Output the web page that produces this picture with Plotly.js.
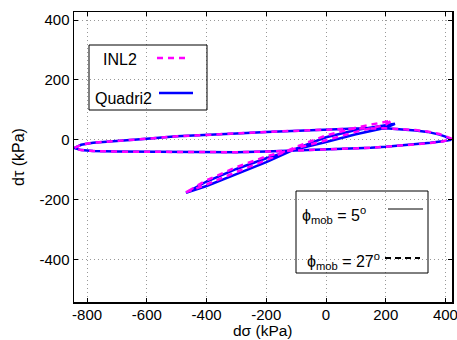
<!DOCTYPE html>
<html>
<head>
<meta charset="utf-8">
<script src="https://cdn.plot.ly/plotly-3.0.1.min.js"></script>
<style>html,body{margin:0;padding:0;background:#fff}#chart{width:457px;height:340px}</style>
</head>
<body>
<div id="chart"></div>
<script>
// Quadri2 (blue solid) — big flat loop
const quadriLoopX = [420, 400, 380, 340, 300, 250, 200, 100, 0, -100, -200, -300, -400, -500, -600, -700, -780, -820, -844,
                     -820, -780, -700, -600, -500, -400, -300, -200, -100, 0, 100, 150, 200, 250, 300, 350, 390, 420];
const quadriLoopY = [0, 10, 17, 26, 31, 35, 38, 37, 34, 30, 26, 21, 16, 11, 3, -4, -10, -17, -28,
                     -35, -38, -40, -41, -42, -42, -42, -40, -37, -33, -29, -27, -24, -20, -15, -10, -5, 0];
// Quadri2 — tilted narrow loop
const quadriLensX = [-469, -400, -300, -200, -100, 0, 100, 180, 231, 200, 100, 0, -100, -200, -300, -400, -469];
const quadriLensY = [-178, -155, -115, -75, -30, 8, 32, 46, 53, 40, 18, -8, -32, -62, -98, -140, -178];

// INL2 (magenta dashed) — big flat loop
const inlLoopX = [422, 400, 380, 340, 300, 250, 200, 100, 0, -100, -200, -300, -400, -500, -600, -700, -780, -820, -844,
                  -820, -780, -700, -600, -500, -400, -300, -200, -100, 0, 100, 150, 200, 250, 300, 350, 390, 422];
const inlLoopY = [3, 12, 19, 27, 32, 35, 38, 37, 34, 30, 26, 21, 16, 11, 3, -4, -10, -17, -28,
                  -35, -38, -40, -41, -42, -42, -42, -40, -37, -33, -29, -27, -24, -20, -16, -11, -6, 3];
// INL2 — tilted narrow loop
const inlLensX = [-469, -400, -300, -200, -100, 0, 100, 170, 220, 200, 100, 0, -100, -200, -300, -400, -469];
const inlLensY = [-176, -150, -108, -68, -24, 14, 40, 54, 64, 50, 26, -2, -28, -56, -92, -136, -176];

const xTicks = [-800, -600, -400, -200, 0, 200, 400];
const yTicks = [-400, -200, 0, 200, 400];
const seriesNames = ['Quadri2', 'INL2'];
const phiLabels = ['\u03d5<sub>mob</sub> = 5<sup>o</sup>', '\u03d5<sub>mob</sub> = 27<sup>o</sup>'];
const xTitle = 'd\u03c3 (kPa)';
const yTitle = 'd\u03c4 (kPa)';

const FONT = 'Liberation Sans, Arial, Helvetica, sans-serif';

const traces = [
  {x: quadriLoopX.concat([null], quadriLensX), y: quadriLoopY.concat([null], quadriLensY),
   mode: 'lines', name: seriesNames[0], line: {color: '#0000ff', width: 2.5}, showlegend: false},
  {x: inlLoopX.concat([null], inlLensX), y: inlLoopY.concat([null], inlLensY),
   mode: 'lines', name: seriesNames[1], line: {color: '#ff00ff', width: 2.5, dash: '6px,5px'}, showlegend: false}
];

function px2x(p){ return (p - 74) / 378; }
function px2y(p){ return (302 - p) / 290; }

const shapes = [
  {type: 'rect', xref: 'paper', yref: 'paper', x0: px2x(89), x1: px2x(207), y0: px2y(110), y1: px2y(45),
   line: {color: '#000', width: 1}, fillcolor: 'rgba(0,0,0,0)', layer: 'above'},
  {type: 'line', xref: 'paper', yref: 'paper', x0: px2x(157), x1: px2x(190), y0: px2y(58), y1: px2y(58),
   line: {color: '#ff00ff', width: 2.5, dash: '6px,5px'}},
  {type: 'line', xref: 'paper', yref: 'paper', x0: px2x(159), x1: px2x(193), y0: px2y(93), y1: px2y(93),
   line: {color: '#0000ff', width: 2.5}},
  {type: 'rect', xref: 'paper', yref: 'paper', x0: px2x(296), x1: px2x(428), y0: px2y(273), y1: px2y(191),
   line: {color: '#000', width: 1}, fillcolor: 'rgba(0,0,0,0)', layer: 'above'},
  {type: 'line', xref: 'paper', yref: 'paper', x0: px2x(388), x1: px2x(423), y0: px2y(209), y1: px2y(209),
   line: {color: '#000', width: 1}},
  {type: 'line', xref: 'paper', yref: 'paper', x0: px2x(385), x1: px2x(420), y0: px2y(258), y1: px2y(258),
   line: {color: '#000', width: 2, dash: '6px,4px'}}
];

const annotations = [
  {xref: 'paper', yref: 'paper', x: px2x(139), y: px2y(59), xanchor: 'right', yanchor: 'middle',
   text: seriesNames[1], showarrow: false, font: {family: FONT, size: 16, color: '#000'}},
  {xref: 'paper', yref: 'paper', x: px2x(154), y: px2y(98), xanchor: 'right', yanchor: 'middle',
   text: seriesNames[0], showarrow: false, font: {family: FONT, size: 16, color: '#000'}},
  {xref: 'paper', yref: 'paper', x: px2x(300), y: px2y(215), xanchor: 'left', yanchor: 'middle',
   text: phiLabels[0], showarrow: false, font: {family: FONT, size: 16, color: '#000'}},
  {xref: 'paper', yref: 'paper', x: px2x(305), y: px2y(261), xanchor: 'left', yanchor: 'middle',
   text: phiLabels[1], showarrow: false, font: {family: FONT, size: 16, color: '#000'}},
  {xref: 'paper', yref: 'paper', x: px2x(263), y: px2y(340), xanchor: 'center', yanchor: 'bottom',
   text: xTitle, showarrow: false, borderpad: 0, font: {family: FONT, size: 15.5, color: '#000'}},
  {xref: 'paper', yref: 'paper', x: px2x(18), y: px2y(157), xanchor: 'center', yanchor: 'middle',
   text: yTitle, textangle: -90, showarrow: false, font: {family: FONT, size: 16, color: '#000'}}
];

const axisCommon = {
  showline: true, linecolor: '#000', linewidth: 1.5, mirror: 'ticks',
  ticks: 'inside', ticklen: 4, tickwidth: 1, tickcolor: '#000',
  showgrid: true, gridcolor: '#999', gridwidth: 1, griddash: '1px,3px',
  zeroline: false, tickfont: {family: FONT, size: 15, color: '#000'},
  tickmode: 'array', automargin: false, ticklabeloverflow: 'allow'
};

const layout = {
  width: 457, height: 340,
  margin: {l: 74, r: 5, t: 12, b: 38},
  paper_bgcolor: '#fff', plot_bgcolor: '#fff',
  font: {family: FONT, size: 16, color: '#000'},
  xaxis: Object.assign({}, axisCommon, {
    range: [-844, 422], tickvals: xTicks, ticktext: xTicks.map(String), ticklabelstandoff: -2
  }),
  yaxis: Object.assign({}, axisCommon, {
    range: [-543, 427], tickvals: yTicks, ticktext: yTicks.map(String)
  }),
  shapes: shapes, annotations: annotations, showlegend: false
};

Plotly.newPlot('chart', traces, layout, {staticPlot: true, displayModeBar: false});
</script>
</body>
</html>
